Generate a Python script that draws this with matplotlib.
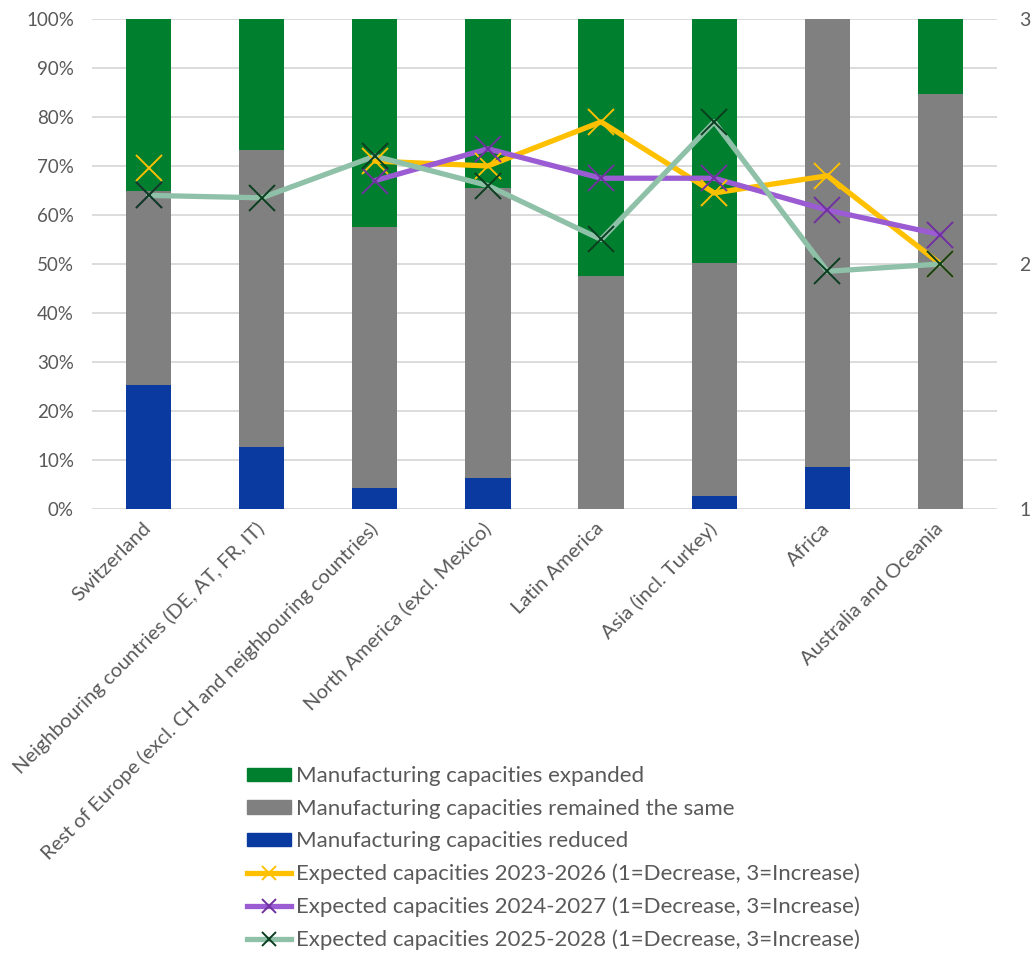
import numpy as np
import matplotlib
matplotlib.use("Agg")
import matplotlib.pyplot as plt
from matplotlib.patches import Patch
from matplotlib.lines import Line2D

plt.rcParams['font.family'] = ['Lato', 'DejaVu Sans']

regions = [
    "Switzerland",
    "Neighbouring countries (DE, AT, FR, IT)",
    "Rest of Europe (excl. CH and neighbouring countries)",
    "North America (excl. Mexico)",
    "Latin America",
    "Asia (incl. Turkey)",
    "Africa",
    "Australia and Oceania",
]

# Shares of respondents (%)
reduced = [25.4, 12.7, 4.3, 6.3, 0.0, 2.6, 8.6, 0.0]
same = [39.4, 60.6, 53.3, 59.3, 47.6, 47.5, 91.4, 84.7]
expanded = [35.2, 26.7, 42.4, 34.4, 52.4, 49.9, 0.0, 15.3]

# Expected capacity scores (1 = decrease, 3 = increase)
exp_2023_2026 = [2.39, np.nan, 2.42, 2.40, 2.58, 2.29, 2.36, 2.00]
exp_2024_2027 = [2.28, np.nan, 2.34, 2.47, 2.35, 2.35, 2.22, 2.12]
exp_2025_2028 = [2.28, 2.27, 2.44, 2.32, 2.10, 2.58, 1.97, 2.00]

left_ticks = [0, 10, 20, 30, 40, 50, 60, 70, 80, 90, 100]
right_ticks = [1, 2, 3]

c_green = "#00802F"
c_gray = "#808080"
c_blue = "#0A3AA0"
c_text = "#595959"

fig = plt.figure(figsize=(10.36, 9.58), dpi=100)
ax = fig.add_axes([0.0888, 0.4687, 0.8736, 0.5115])

x = np.arange(len(regions))
w = 0.40
ax.bar(x, reduced, w, color=c_blue, zorder=2)
ax.bar(x, same, w, bottom=reduced, color=c_gray, zorder=2)
ax.bar(x, expanded, w, bottom=np.array(reduced) + np.array(same), color=c_green, zorder=2)

ax.set_ylim(0, 100)
ax.set_xlim(-0.5, len(regions) - 0.5)
ax.set_yticks(left_ticks)
ax.set_yticklabels([f"{t}%" for t in left_ticks])
ax.yaxis.grid(True, color="#D9D9D9", linewidth=1.3, zorder=0)
ax.set_axisbelow(True)
for s in ax.spines.values():
    s.set_visible(False)
ax.tick_params(axis="y", length=0, colors=c_text, labelsize=13.5, pad=13)
ax.tick_params(axis="x", length=0, colors=c_text, labelsize=14.5, pad=12)
ax.set_xticks(x)
ax.set_xticklabels(regions, rotation=45, ha="right", va="center",
                   rotation_mode="anchor")

ax2 = ax.twinx()
ax2.set_ylim(1, 3)
ax2.set_yticks(right_ticks)
for s in ax2.spines.values():
    s.set_visible(False)
ax2.tick_params(axis="y", length=0, colors=c_text, labelsize=14, pad=16)

line_styles = [
    (exp_2023_2026, "#FFC000", "#FFC000", "Expected capacities 2023-2026 (1=Decrease, 3=Increase)"),
    (exp_2024_2027, "#9B5BD3", "#7030A0", "Expected capacities 2024-2027 (1=Decrease, 3=Increase)"),
    (exp_2025_2028, "#8FC1A9", "#0B3D1F", "Expected capacities 2025-2028 (1=Decrease, 3=Increase)"),
]
line_handles = []
for vals, lc, mc, lab in line_styles:
    ax2.plot(x, vals, color=lc, linewidth=3.8, solid_capstyle="round", zorder=3)
    ax2.plot(x, vals, linestyle="none", marker="x", markersize=19,
             markeredgewidth=1.4, color=mc, zorder=4)
    line_handles.append(Line2D([0], [0], color=lc, linewidth=3.8, marker="x",
                               markersize=10, markeredgewidth=1.4,
                               markeredgecolor=mc, label=lab))

bar_handles = [
    Patch(color=c_green, label="Manufacturing capacities expanded"),
    Patch(color=c_gray, label="Manufacturing capacities remained the same"),
    Patch(color=c_blue, label="Manufacturing capacities reduced"),
]

leg = fig.legend(handles=bar_handles + line_handles, loc="upper left",
                 bbox_to_anchor=(0.238, 0.2), frameon=False,
                 fontsize=16, handlelength=1.98, handleheight=0.58,
                 handletextpad=0.24, labelspacing=0.56, borderaxespad=0,
                 borderpad=0)
for t in leg.get_texts():
    t.set_color(c_text)

fig.savefig("out.png", dpi=100)
